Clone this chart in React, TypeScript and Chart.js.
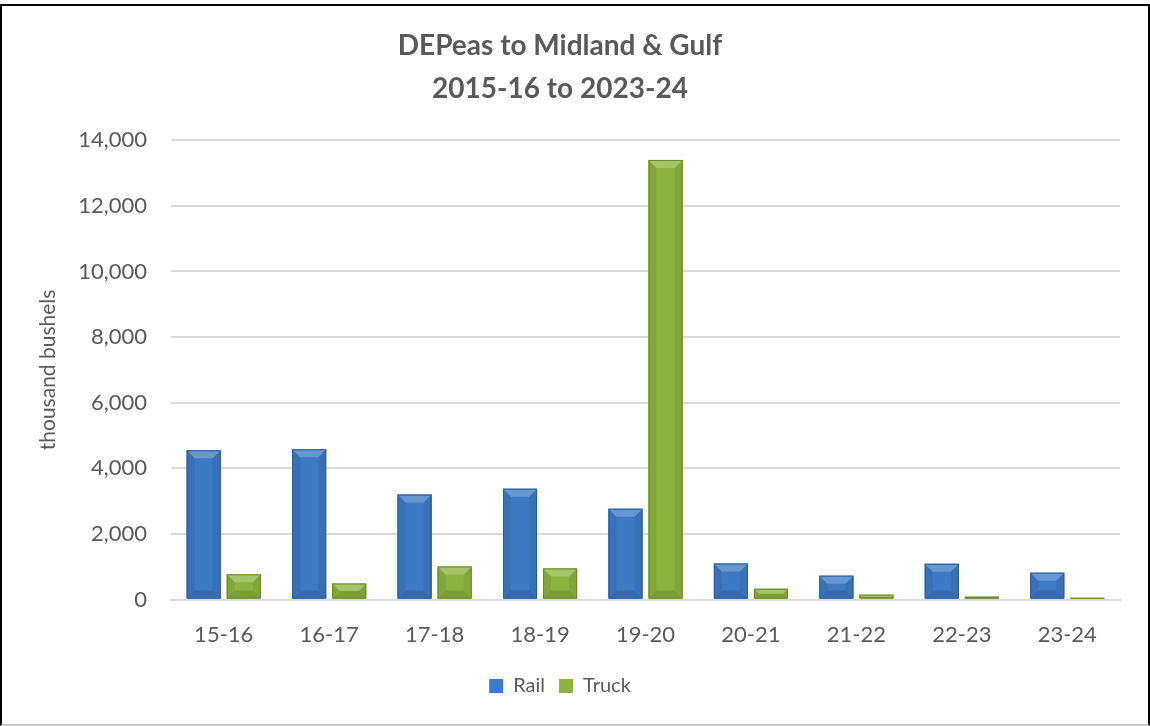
import React, { useEffect, useRef } from "react";
import { Chart, registerables } from "chart.js";

Chart.register(...registerables);

const categories = ["15-16", "16-17", "17-18", "18-19", "19-20", "20-21", "21-22", "22-23", "23-24"];
const railValues = [4550, 4580, 3200, 3380, 2770, 1100, 730, 1090, 820];
const truckValues = [770, 490, 1010, 950, 13400, 330, 150, 90, 50];
const titleLines = ["DEPeas to Midland & Gulf", "2015-16 to 2023-24"];
const yAxisTitle = "thousand bushels";
const FONT = "Lato, 'Open Sans', sans-serif";
const TEXT = "#595959";

const shade = (hex: string, amt: number) => {
  const n = parseInt(hex.slice(1), 16);
  let r = (n >> 16) & 255, g = (n >> 8) & 255, b = n & 255;
  const f = (c: number) => Math.max(0, Math.min(255, Math.round(amt >= 0 ? c + (255 - c) * amt : c * (1 + amt))));
  return `rgb(${f(r)},${f(g)},${f(b)})`;
};

const bevelPlugin = {
  id: "bevel",
  afterDatasetDraw(chart: any, args: any) {
    const meta = chart.getDatasetMeta(args.index);
    const base = chart.data.datasets[args.index].backgroundColor as string;
    const ctx = chart.ctx;
    ctx.save();
    meta.data.forEach((el: any) => {
      const { x, y, base: b, width } = el.getProps(["x", "y", "base", "width"], true);
      const l = x - width / 2, r = x + width / 2;
      const h = b - y;
      const bv = Math.min(8, h / 2);
      if (h <= 0) return;
      ctx.fillStyle = shade(base, -0.07);
      ctx.beginPath();
      ctx.moveTo(l, y); ctx.lineTo(l + bv, y + bv); ctx.lineTo(l + bv, b - bv); ctx.lineTo(l, b); ctx.closePath(); ctx.fill();
      ctx.beginPath();
      ctx.moveTo(r, y); ctx.lineTo(r - bv, y + bv); ctx.lineTo(r - bv, b - bv); ctx.lineTo(r, b); ctx.closePath(); ctx.fill();
      ctx.fillStyle = shade(base, -0.12);
      ctx.beginPath();
      ctx.moveTo(l, b); ctx.lineTo(l + bv, b - bv); ctx.lineTo(r - bv, b - bv); ctx.lineTo(r, b); ctx.closePath(); ctx.fill();
      ctx.fillStyle = shade(base, 0.22);
      ctx.beginPath();
      ctx.moveTo(l, y); ctx.lineTo(r, y); ctx.lineTo(r - bv, y + bv); ctx.lineTo(l + bv, y + bv); ctx.closePath(); ctx.fill();
      ctx.strokeStyle = shade(base, -0.25);
      ctx.lineWidth = 1;
      ctx.strokeRect(l + 0.5, y + 0.5, width - 1, h - 1);
    });
    ctx.restore();
  },
};

export default function App() {
  const ref = useRef<HTMLCanvasElement | null>(null);
  useEffect(() => {
    document.body.style.margin = "0";
    const c = new Chart(ref.current!, {
      type: "bar",
      data: {
        labels: categories,
        datasets: [
          { label: "Rail", data: railValues, backgroundColor: "#3c7ac4", borderWidth: 0, categoryPercentage: 0.76, barPercentage: 0.85 },
          { label: "Truck", data: truckValues, backgroundColor: "#8db33f", borderWidth: 0, categoryPercentage: 0.76, barPercentage: 0.85 },
        ],
      },
      plugins: [bevelPlugin],
      options: {
        responsive: false,
        animation: false,
        layout: { padding: { left: 0, right: 30, top: 0, bottom: 20 } },
        plugins: {
          title: {
            display: true,
            text: titleLines,
            color: TEXT,
            font: { family: FONT, size: 28, weight: "bold", lineHeight: 1.54 },
            padding: { top: 24, bottom: 30 },
          },
          legend: {
            position: "bottom",
            labels: {
              color: TEXT,
              font: { family: FONT, size: 20 },
              boxWidth: 14,
              boxHeight: 14,
              padding: 14,
            },
          },
          tooltip: { enabled: false },
        },
        scales: {
          x: {
            grid: { display: false },
            border: { display: true, color: "#d9d9d9", width: 2 },
            ticks: { color: TEXT, font: { family: FONT, size: 22 }, padding: 14 },
          },
          y: {
            min: 0,
            max: 14000,
            afterFit: (s: any) => { s.width = 171; },
            grid: { color: "#d9d9d9", lineWidth: 2, drawTicks: false },
            border: { display: false },
            ticks: {
              stepSize: 2000,
              color: TEXT,
              padding: 24,
              font: { family: FONT, size: 22 },
              callback: (v: any) => Number(v).toLocaleString("en-US"),
            },
            title: {
              display: true,
              text: yAxisTitle,
              color: TEXT,
              font: { family: FONT, size: 21 },
              padding: { top: 36, bottom: 0 },
            },
          },
        },
      },
    });
    return () => c.destroy();
  }, []);
  return (
    <div style={{ position: "relative", width: 1150, height: 726, background: "#fff" }}>
      <canvas ref={ref} width={1150} height={726} style={{ position: "absolute", left: 0, top: 0 }} />
      <div
        style={{
          position: "absolute",
          left: 0,
          top: 4,
          width: 1150,
          height: 722,
          boxSizing: "border-box",
          borderLeft: "2px solid #000",
          borderTop: "2px solid #000",
          borderRight: "2px solid #000",
          borderBottom: "2px solid #c8c8c8",
          pointerEvents: "none",
        }}
      />
    </div>
  );
}
